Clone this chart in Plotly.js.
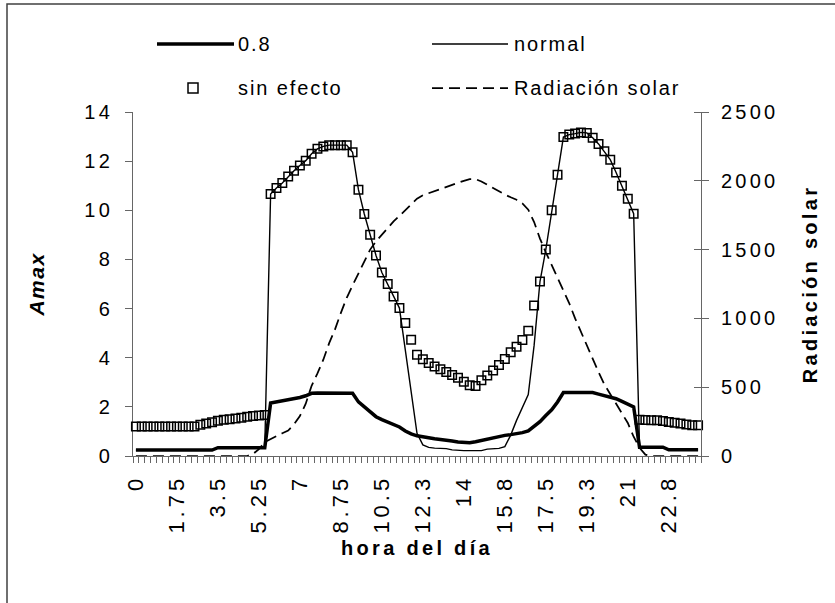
<!DOCTYPE html>
<html><head><meta charset="utf-8">
<script src="https://cdn.plot.ly/plotly-3.0.1.min.js"></script>
<style>
html,body{margin:0;padding:0;background:#fff;}
#chart{width:835px;height:603px;}
.xtick text{letter-spacing:4px;}
.ytick text,.y2tick text{letter-spacing:3.2px;}
.annotation-text{letter-spacing:1.9px;}
.g-xtitle text,.g-y2title text{letter-spacing:3.3px;}
.g-ytitle text{letter-spacing:1.5px;}
</style></head>
<body><div id="chart"></div>
<script>
// ---- data ----
const hours = [0,0.25,0.5,0.75,1,1.25,1.5,1.75,2,2.25,2.5,2.75,3,3.25,3.5,3.75,4,4.25,4.5,4.75,
5,5.25,5.5,5.75,6,6.25,6.5,6.75,7,7.25,7.5,7.75,8,8.25,8.5,8.75,9,9.25,9.5,9.75,
10,10.25,10.5,10.75,11,11.25,11.5,11.75,12,12.25,12.5,12.75,13,13.25,13.5,13.75,14,14.25,14.5,14.75,
15,15.25,15.5,15.75,16,16.25,16.5,16.75,17,17.25,17.5,17.75,18,18.25,18.5,18.75,19,19.25,19.5,19.75,
20,20.25,20.5,20.75,21,21.25,21.5,21.75,22,22.25,22.5,22.75,23,23.25,23.5,23.75,24];

const tickHours = [0,1.75,3.5,5.25,7,8.75,10.5,12.25,14,15.75,17.5,19.25,21,22.75];
const tickLabels = ["0","1.75","3.5","5.25","7","8.75","10.5","12.3","14","15.8","17.5","19.3","21","22.8"];

// serie "0.8"
const amax08 = [0.24,0.24,0.24,0.24,0.24,0.24,0.24,0.24,0.24,0.24,0.24,0.24,0.24,0.24,
0.34,0.34,0.34,0.34,0.34,0.34,0.34,0.34,0.34,
2.16,2.2,2.25,2.3,2.33,2.38,2.45,2.55,2.56,2.56,2.56,2.56,2.56,2.56,2.55,
2.2,2.0,1.8,1.6,1.48,1.38,1.29,1.18,1.02,0.9,0.82,0.77,0.73,0.7,0.67,0.65,0.61,0.57,0.55,0.54,
0.58,0.63,0.69,0.76,0.8,0.84,0.87,0.9,0.95,1.02,1.2,1.4,1.65,1.88,2.2,2.58,
2.58,2.58,2.58,2.58,2.58,2.52,2.45,2.39,2.33,2.22,2.12,2.0,
0.36,0.36,0.36,0.36,0.36,0.25,0.25,0.25,0.25,0.25,0.25];

// serie "normal"
const amaxNormal = [0.24,0.24,0.24,0.24,0.24,0.24,0.24,0.24,0.24,0.24,0.24,0.24,0.24,0.24,
0.34,0.34,0.34,0.34,0.34,0.34,0.34,0.34,0.34,
10.66,10.91,11.11,11.38,11.61,11.82,12.02,12.3,12.5,12.6,12.65,12.65,12.65,12.65,12.36,
10.84,9.85,9.0,8.16,7.47,7.0,6.49,6.02,
4.32,2.62,0.92,0.45,0.35,0.32,0.31,0.3,0.25,0.22,0.22,0.22,0.22,0.22,0.28,0.3,0.31,0.38,
0.85,1.45,1.95,2.5,4.5,
7.1,8.4,10.0,11.45,12.98,13.08,13.12,13.17,13.15,12.95,12.7,12.4,12.06,11.54,11.0,10.47,9.86,
0.36,0.36,0.36,0.36,0.36,0.25,0.25,0.25,0.25,0.25,0.25];

// serie "sin efecto"
const amaxSinEfecto = [1.2,1.2,1.2,1.2,1.2,1.2,1.2,1.2,1.2,1.2,1.2,
1.27,1.32,1.37,1.43,1.48,1.5,1.53,1.56,1.6,1.63,1.65,1.67,
10.66,10.91,11.11,11.38,11.61,11.82,12.02,12.3,12.5,12.6,12.65,12.65,12.65,12.65,12.36,
10.84,9.85,9.0,8.16,7.47,7.0,6.49,6.02,5.41,4.73,4.12,
3.94,3.78,3.64,3.53,3.42,3.3,3.18,3.02,2.88,2.85,
3.08,3.28,3.48,3.7,3.95,4.22,4.45,4.72,5.1,6.12,
7.1,8.4,10.0,11.45,12.98,13.08,13.12,13.17,13.15,12.95,12.7,12.4,12.06,11.54,11.0,10.47,9.86,
1.48,1.47,1.46,1.45,1.42,1.38,1.35,1.32,1.28,1.25,1.25];

// serie "Radiación solar"
const radiacion = [0,0,0,0,0,0,0,0,0,0,0,0,0,0,0,0,0,0,0,0,
15,50,100,125,145,165,185,230,290,380,510,600,700,820,920,1040,1150,1240,1330,1420,
1500,1560,1610,1660,1705,1745,1785,1830,1870,1895,1910,1925,1945,1960,1975,1990,2000,2012,2012,1995,
1970,1945,1925,1900,1880,1862,1835,1790,1700,1580,1480,1390,1300,1200,1110,1000,900,800,700,610,
520,450,370,310,240,140,60,10,
0,0,0,0,0,0,0,0,0];

// ---- chart ----
const FAM = 'Liberation Sans, Arial, sans-serif';
const FONT = {family: FAM, size: 20, color: '#000'};
const XFONT = {family: FAM, size: 22, color: '#000'};
const AX = '#666';
const DASH = '11px,6px';

const traces = [
  {x: hours, y: amax08, name: '0.8', type: 'scatter', mode: 'lines',
   line: {color: '#000', width: 3.5}, showlegend: false},
  {x: hours, y: amaxNormal, name: 'normal', type: 'scatter', mode: 'lines',
   line: {color: '#000', width: 1.4}, showlegend: false},
  {x: hours, y: amaxSinEfecto, name: 'sin efecto', type: 'scatter', mode: 'markers',
   marker: {symbol: 'square-open', size: 8.5, color: '#000', line: {color: '#000', width: 1.5}},
   showlegend: false, cliponaxis: false},
  {x: hours, y: radiacion, name: 'Radiación solar', type: 'scatter', mode: 'lines', yaxis: 'y2',
   line: {color: '#000', width: 1.75, dash: DASH}, showlegend: false}
];

// plot area: x 133..701, y 112..456
const PX = px => (px - 133) / 568;
const PY = py => (456 - py) / 344;
const R1 = 44, R2 = 88;

const layout = {
  width: 835, height: 603,
  margin: {l: 133, r: 134, t: 112, b: 147, pad: 0},
  paper_bgcolor: '#fff', plot_bgcolor: '#fff',
  font: FONT, showlegend: false,
  xaxis: {
    range: [-0.125, 24.125], tickmode: 'array', tickvals: tickHours, ticktext: tickLabels,
    tickangle: -90, ticks: '', showline: true, linecolor: AX, linewidth: 1,
    showgrid: false, zeroline: false, ticklabelstandoff: 9, layer: 'below traces',
    tickfont: XFONT,
    minor: {tickmode: 'linear', tick0: 0.125, dtick: 0.25, ticks: 'outside', ticklen: 6,
            tickcolor: AX, tickwidth: 1, showgrid: false},
    title: {text: '<b>hora del día</b>', font: FONT, standoff: 8}
  },
  yaxis: {
    range: [0, 14], tickmode: 'linear', tick0: 0, dtick: 2, ticks: 'outside', ticklen: 7,
    tickcolor: AX, tickwidth: 1, showline: true, linecolor: AX, linewidth: 1,
    showgrid: false, zeroline: false, ticklabelstandoff: 8, tickfont: FONT, layer: 'below traces',
    title: {text: '<b><i>Amax</i></b>', font: {family: FAM, size: 21, color: '#000'}, standoff: 33}
  },
  yaxis2: {
    overlaying: 'y', side: 'right', range: [0, 2500], tickmode: 'linear', tick0: 0, dtick: 500,
    ticks: 'outside', ticklen: 7, tickcolor: AX, tickwidth: 1, showline: true, linecolor: AX,
    linewidth: 1, showgrid: false, zeroline: false, ticklabelstandoff: 8, tickfont: FONT,
    minor: {tickmode: 'linear', tick0: 0, dtick: 500, ticks: 'inside', ticklen: 7, tickcolor: AX, tickwidth: 1, showgrid: false},
    title: {text: '<b>Radiación solar</b>', font: FONT, standoff: 25}
  },
  shapes: [
    {type: 'rect', xref: 'paper', yref: 'paper', x0: PX(7), x1: PX(845), y0: PY(615), y1: PY(4),
     line: {color: '#404040', width: 1.5}, fillcolor: 'rgba(0,0,0,0)'},
    {type: 'line', xref: 'paper', yref: 'paper', x0: PX(157), x1: PX(234), y0: PY(R1), y1: PY(R1),
     line: {color: '#000', width: 3.5}},
    {type: 'line', xref: 'paper', yref: 'paper', x0: PX(432), x1: PX(508), y0: PY(R1), y1: PY(R1),
     line: {color: '#000', width: 1.4}},
    {type: 'rect', xref: 'paper', yref: 'paper', x0: PX(188), x1: PX(198), y0: PY(R2 + 5), y1: PY(R2 - 5),
     line: {color: '#000', width: 1.5}, fillcolor: 'rgba(0,0,0,0)'},
    {type: 'line', xref: 'paper', yref: 'paper', x0: PX(432), x1: PX(508), y0: PY(R2), y1: PY(R2),
     line: {color: '#000', width: 1.75, dash: DASH}}
  ],
  annotations: [
    {xref: 'paper', yref: 'paper', x: PX(236), y: PY(R1), xanchor: 'left', yanchor: 'middle', text: '0.8', showarrow: false, font: FONT},
    {xref: 'paper', yref: 'paper', x: PX(512), y: PY(R1), xanchor: 'left', yanchor: 'middle', text: 'normal', showarrow: false, font: FONT},
    {xref: 'paper', yref: 'paper', x: PX(236), y: PY(R2), xanchor: 'left', yanchor: 'middle', text: 'sin efecto', showarrow: false, font: FONT},
    {xref: 'paper', yref: 'paper', x: PX(512), y: PY(R2), xanchor: 'left', yanchor: 'middle', text: 'Radiación solar', showarrow: false, font: FONT}
  ]
};

Plotly.newPlot('chart', traces, layout, {displayModeBar: false, staticPlot: true});
</script></body></html>
